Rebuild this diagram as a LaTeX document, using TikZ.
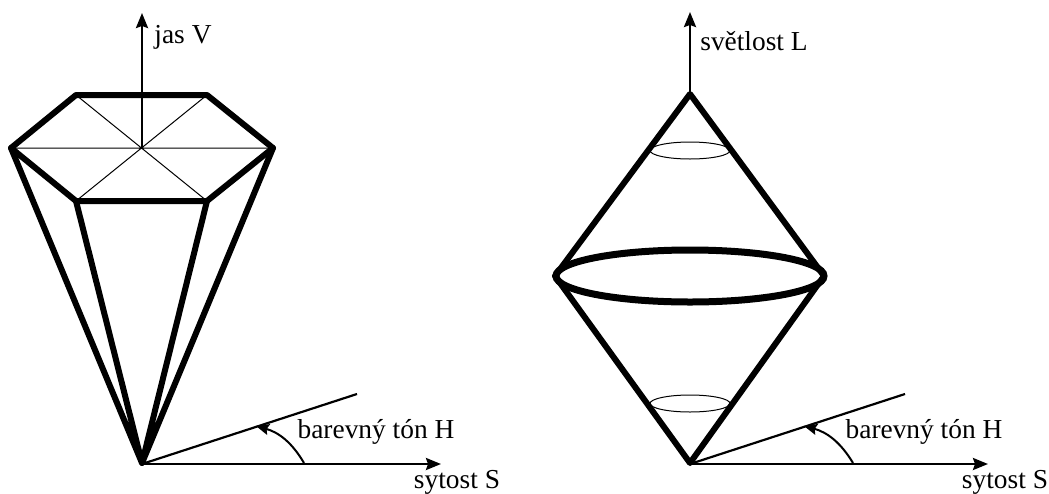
\documentclass[tikz,border=0pt]{standalone}
\usepackage{fontspec}
\setmainfont{Liberation Serif}
\usetikzlibrary{arrows.meta}
\begin{document}
\begin{tikzpicture}[x=1pt,y=-1pt,
  thickedge/.style={line width=6pt,line cap=round,line join=round},
  fineedge/.style={line width=1pt},
  axisline/.style={line width=2.2pt},
  axisarrow/.style={line width=2.4pt,-{Stealth[length=15pt,width=12pt,inset=2pt]}},
  anglearrow/.style={line width=2pt,-{Stealth[length=13pt,width=11pt,inset=2pt]}},
  lbl/.style={font=\fontsize{27.4}{30}\selectfont,inner sep=0pt,text=black}]
\useasboundingbox (0,0) rectangle (1049,493);
% left figure
\coordinate (hc) at (142,148);
\coordinate (hl) at (11,148);
\coordinate (htl) at (76,95);
\coordinate (htr) at (207,95);
\coordinate (hr) at (273,148);
\coordinate (hbr) at (207,201);
\coordinate (hbl) at (76,201);
\coordinate (a1) at (142,463);
\coordinate (vtop) at (142,13);
\coordinate (s1) at (441,464);
\coordinate (o1) at (142,464);
\coordinate (h1) at (357,394);
\coordinate (as1) at (304,463);
\coordinate (ae1) at (256,426);
\draw[fineedge] (hl) -- (hr) (htl) -- (hbr) (htr) -- (hbl);
\draw[thickedge] (hl) -- (htl) -- (htr) -- (hr) -- (hbr) -- (hbl) -- cycle;
\draw[thickedge] (hl) -- (a1) (hbl) -- (a1) (hbr) -- (a1) (hr) -- (a1);
\draw[axisarrow] (hc) -- (vtop);
\draw[axisarrow] (o1) -- (s1);
\draw[axisline] (o1) -- (h1);
\draw[anglearrow] (as1) to[bend right=22] (ae1);
\node[lbl] (v1) at (183,37) {jas V};
\node[lbl] (t1) at (376,432) {barevný tón H};
\node[lbl] (l1) at (457,482) {sytost S};
% right figure
\coordinate (rt) at (690,94);
\coordinate (rl) at (555,276);
\coordinate (rr) at (824,276);
\coordinate (rb) at (690,463);
\coordinate (rc) at (690,276);
\coordinate (ru) at (690,150.5);
\coordinate (rd) at (690,403.5);
\coordinate (ltop) at (690,12);
\coordinate (s2) at (988,464);
\coordinate (o2) at (690,464);
\coordinate (h2) at (905,394);
\coordinate (as2) at (853,463);
\coordinate (ae2) at (804,426);
\draw[fineedge] (ru) ellipse [x radius=40,y radius=8.5];
\draw[fineedge] (rd) ellipse [x radius=40,y radius=8.5];
\draw[thickedge] (rt) -- (rr) -- (rb) -- (rl) -- cycle;
\draw[line width=7pt] (rc) ellipse [x radius=134,y radius=26];
\draw[axisarrow] (rt) -- (ltop);
\draw[axisarrow] (o2) -- (s2);
\draw[axisline] (o2) -- (h2);
\draw[anglearrow] (as2) to[bend right=22] (ae2);
\node[lbl] (v2) at (754,41) {světlost L};
\node[lbl] (t2) at (924,432) {barevný tón H};
\node[lbl] (l2) at (1005,482) {sytost S};
\end{tikzpicture}
\end{document}
